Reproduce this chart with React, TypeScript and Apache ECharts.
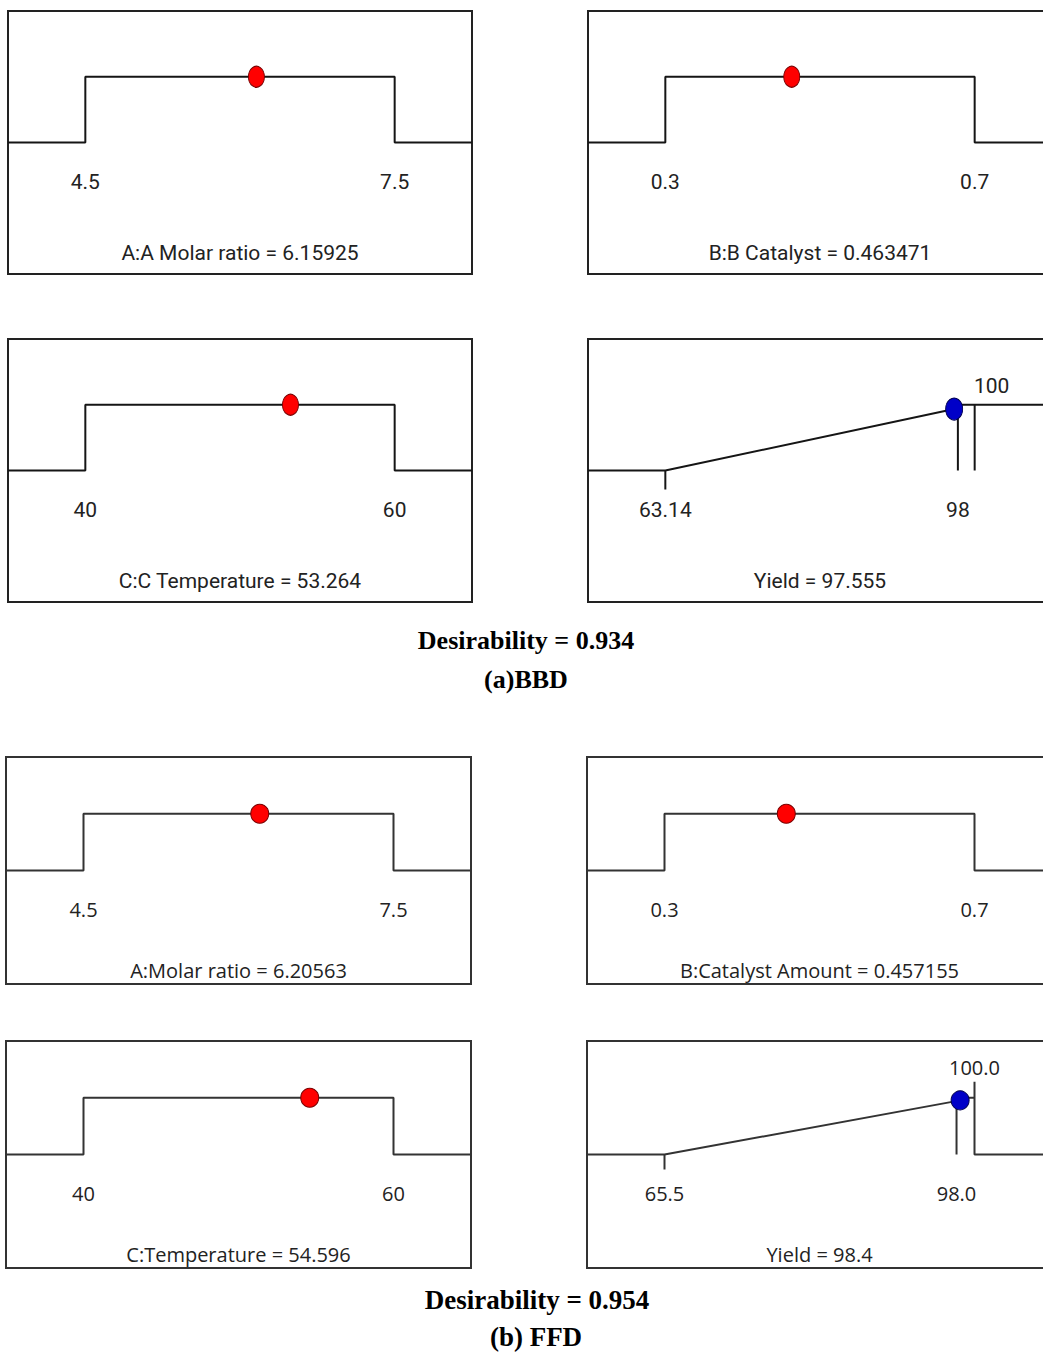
import React, { useEffect, useRef } from "react";
import * as echarts from "echarts";

// ---------- (a) BBD ----------
const bbdFactorNames = ["A:A Molar ratio", "B:B Catalyst", "C:C Temperature"];
const bbdFactorLow = [4.5, 0.3, 40];
const bbdFactorHigh = [7.5, 0.7, 60];
const bbdFactorOptimum = [6.15925, 0.463471, 53.264];
const bbdFactorTickDecimals = [1, 1, 0];
const bbdYieldName = "Yield";
const bbdYieldLow = 63.14;
const bbdYieldTarget = 98;
const bbdYieldHigh = 100;
const bbdYieldPredicted = 97.555;
const bbdDesirability = 0.934;
const bbdTitle = "Desirability = 0.934";
const bbdCaption = "(a)BBD";

// ---------- (b) FFD ----------
const ffdFactorNames = ["A:Molar ratio", "B:Catalyst Amount", "C:Temperature"];
const ffdFactorLow = [4.5, 0.3, 40];
const ffdFactorHigh = [7.5, 0.7, 60];
const ffdFactorOptimum = [6.20563, 0.457155, 54.596];
const ffdFactorTickDecimals = [1, 1, 0];
const ffdYieldName = "Yield";
const ffdYieldLow = 65.5;
const ffdYieldTarget = 98.0;
const ffdYieldHigh = 100.0;
const ffdYieldPredicted = 98.4;
const ffdDesirability = 0.954;
const ffdYieldCapLevel = 1.28;
const ffdTitle = "Desirability = 0.954";
const ffdCaption = "(b) FFD";

// ---------- layout / style ----------
const BBD_BOXES = [[8, 11], [588, 11], [8, 339], [588, 339]];
const BBD_SIZE = [464, 263];
const FFD_BOXES = [[6, 757], [587, 757], [6, 1041], [587, 1041]];
const FFD_SIZE = [465, 227];

const bbdStyle = {
  font: "Roboto, 'Liberation Sans', sans-serif",
  size: 21,
  labelMargin: -102.5,
  nameGap: -31.5,
  lineColor: "#151515",
  boxColor: "#222",
  textColor: "#222",
  markerSize: [16, 21],
  yieldMarkerSize: [17, 22],
  tickLen: 19,
  topLabelOffset: [17, 0],
  topLabelDist: 8,
};
const ffdStyle = {
  font: "'Open Sans', 'Noto Sans', sans-serif",
  size: 20,
  labelMargin: -84.5,
  nameGap: -23.5,
  lineColor: "#333",
  boxColor: "#333",
  textColor: "#222",
  markerSize: [18, 19],
  yieldMarkerSize: [18, 19],
  tickLen: 15,
  topLabelOffset: [0, 0],
  topLabelDist: 4,
};

const RED = "#ff0000";
const RED_BORDER = "#7a0000";
const BLUE = "#0000c8";
const BLUE_BORDER = "#000050";

const Y_MIN = -2;
const Y_MAX = 2;

function addPanel(opt: any, spec: any) {
  const gi = opt.grid.length;
  const st = spec.style;
  const span = spec.hi - spec.lo;
  const xmin = spec.lo - 0.25 * span;
  const xmax = spec.hi + 0.25 * span;
  opt.grid.push({
    left: spec.left,
    top: spec.top,
    width: spec.width,
    height: spec.height,
    show: true,
    borderColor: st.boxColor,
    borderWidth: 2,
    backgroundColor: "transparent",
    containLabel: false,
    outerBoundsMode: "none",
  });
  opt.xAxis.push({
    gridIndex: gi,
    type: "value",
    position: "bottom",
    min: xmin,
    max: xmax,
    name: spec.name,
    nameLocation: "middle",
    nameGap: st.nameGap,
    nameMoveOverlap: false,
    nameTextStyle: {
      fontFamily: st.font,
      fontSize: st.size,
      lineHeight: st.size,
      color: st.textColor,
    },
    axisLine: { show: false, onZero: false },
    splitLine: { show: false },
    axisTick: { show: false },
    axisLabel: {
      show: true,
      customValues: spec.ticks,
      formatter: spec.fmt,
      margin: st.labelMargin,
      fontFamily: st.font,
      fontSize: st.size,
      lineHeight: st.size,
      color: st.textColor,
    },
  });
  opt.yAxis.push({
    gridIndex: gi,
    type: "value",
    min: Y_MIN,
    max: Y_MAX,
    show: false,
    splitLine: { show: false },
  });
  const segs = spec.segments.slice();
  if (spec.tickAt != null) {
    const depth = st.tickLen / (spec.height / (Y_MAX - Y_MIN));
    segs.push([[spec.tickAt, 0], [spec.tickAt, -depth]]);
  }
  segs.forEach((seg: number[][]) => {
    opt.series.push({
      type: "line",
      xAxisIndex: gi,
      yAxisIndex: gi,
      data: seg,
      symbol: "none",
      silent: true,
      lineStyle: { color: st.lineColor, width: 2 },
      z: 2,
    });
  });
  opt.series.push({
    type: "scatter",
    xAxisIndex: gi,
    yAxisIndex: gi,
    data: [spec.marker],
    symbol: "circle",
    symbolSize: spec.markerSize,
    silent: true,
    itemStyle: {
      color: spec.markerColor,
      borderColor: spec.markerBorder,
      borderWidth: 1,
      opacity: 1,
    },
    z: 5,
  });
  if (spec.topLabel) {
    opt.series.push({
      type: "scatter",
      xAxisIndex: gi,
      yAxisIndex: gi,
      data: [spec.topLabel.value],
      symbol: "circle",
      symbolSize: 1,
      silent: true,
      itemStyle: { color: "rgba(0,0,0,0)", opacity: 1 },
      label: {
        show: true,
        formatter: spec.topLabel.text,
        position: "top",
        distance: st.topLabelDist,
        offset: st.topLabelOffset,
        fontFamily: st.font,
        fontSize: st.size,
        lineHeight: st.size,
        color: st.textColor,
        opacity: 1,
        textBorderWidth: 0,
      },
      z: 6,
    });
  }
}

function factorSegments(lo: number, hi: number) {
  const span = hi - lo;
  const xmin = lo - 0.25 * span;
  const xmax = hi + 0.25 * span;
  return [[[xmin, 0], [lo, 0], [lo, 1], [hi, 1], [hi, 0], [xmax, 0]]];
}

function buildOption() {
  const opt: any = {
    animation: false,
    backgroundColor: "#ffffff",
    grid: [],
    xAxis: [],
    yAxis: [],
    series: [],
    graphic: [],
  };

  // BBD factors
  for (let i = 0; i < 3; i++) {
    const lo = bbdFactorLow[i];
    const hi = bbdFactorHigh[i];
    const dec = bbdFactorTickDecimals[i];
    addPanel(opt, {
      left: BBD_BOXES[i][0],
      top: BBD_BOXES[i][1],
      width: BBD_SIZE[0],
      height: BBD_SIZE[1],
      lo,
      hi,
      ticks: [lo, hi],
      fmt: (v: number) => v.toFixed(dec),
      name: `${bbdFactorNames[i]} = ${bbdFactorOptimum[i]}`,
      segments: factorSegments(lo, hi),
      marker: [bbdFactorOptimum[i], 1],
      markerColor: RED,
      markerBorder: RED_BORDER,
      markerSize: bbdStyle.markerSize,
      style: bbdStyle,
    });
  }
  // BBD yield
  {
    const lo = bbdYieldLow;
    const hi = bbdYieldHigh;
    const xmin = lo - 0.25 * (hi - lo);
    const xmax = hi + 0.25 * (hi - lo);
    addPanel(opt, {
      left: BBD_BOXES[3][0],
      top: BBD_BOXES[3][1],
      width: BBD_SIZE[0],
      height: BBD_SIZE[1],
      lo,
      hi,
      ticks: [bbdYieldLow, bbdYieldTarget],
      fmt: (v: number) => String(v),
      tickAt: bbdYieldLow,
      name: `${bbdYieldName} = ${bbdYieldPredicted}`,
      segments: [
        [[xmin, 0], [lo, 0], [bbdYieldPredicted, bbdDesirability]],
        [[bbdYieldTarget, 0], [bbdYieldTarget, bbdDesirability]],
        [[bbdYieldPredicted, 1], [hi, 1], [xmax, 1]],
        [[hi, 1], [hi, 0]],
      ],
      marker: [bbdYieldPredicted, bbdDesirability],
      markerColor: BLUE,
      markerBorder: BLUE_BORDER,
      markerSize: bbdStyle.yieldMarkerSize,
      topLabel: { value: [hi, 1], text: String(bbdYieldHigh) },
      style: bbdStyle,
    });
  }

  // FFD factors
  for (let i = 0; i < 3; i++) {
    const lo = ffdFactorLow[i];
    const hi = ffdFactorHigh[i];
    const dec = ffdFactorTickDecimals[i];
    addPanel(opt, {
      left: FFD_BOXES[i][0],
      top: FFD_BOXES[i][1],
      width: FFD_SIZE[0],
      height: FFD_SIZE[1],
      lo,
      hi,
      ticks: [lo, hi],
      fmt: (v: number) => v.toFixed(dec),
      name: `${ffdFactorNames[i]} = ${ffdFactorOptimum[i]}`,
      segments: factorSegments(lo, hi),
      marker: [ffdFactorOptimum[i], 1],
      markerColor: RED,
      markerBorder: RED_BORDER,
      markerSize: ffdStyle.markerSize,
      style: ffdStyle,
    });
  }
  // FFD yield
  {
    const lo = ffdYieldLow;
    const hi = ffdYieldHigh;
    const xmin = lo - 0.25 * (hi - lo);
    const xmax = hi + 0.25 * (hi - lo);
    addPanel(opt, {
      left: FFD_BOXES[3][0],
      top: FFD_BOXES[3][1],
      width: FFD_SIZE[0],
      height: FFD_SIZE[1],
      lo,
      hi,
      ticks: [ffdYieldLow, ffdYieldTarget],
      fmt: (v: number) => v.toFixed(1),
      tickAt: ffdYieldLow,
      name: `${ffdYieldName} = ${ffdYieldPredicted}`,
      segments: [
        [[xmin, 0], [lo, 0], [ffdYieldPredicted, ffdDesirability]],
        [[ffdYieldTarget, 0], [ffdYieldTarget, ffdDesirability]],
        [[ffdYieldPredicted, 1], [hi, 1]],
        [[hi, ffdYieldCapLevel], [hi, 0], [xmax, 0]],
      ],
      marker: [ffdYieldPredicted, ffdDesirability],
      markerColor: BLUE,
      markerBorder: BLUE_BORDER,
      markerSize: ffdStyle.yieldMarkerSize,
      topLabel: { value: [hi, ffdYieldCapLevel], text: ffdYieldHigh.toFixed(1) },
      style: ffdStyle,
    });
  }

  const serif = "'Liberation Serif', 'Times New Roman', serif";
  const title = (text: string, x: number, y: number, size: number) => ({
    type: "text",
    x,
    y,
    silent: true,
    style: {
      text,
      fontFamily: serif,
      fontWeight: "bold",
      fontSize: size,
      fill: "#000",
      align: "center",
      verticalAlign: "middle",
      textAlign: "center",
      textVerticalAlign: "middle",
    },
  });
  opt.graphic = [
    title(bbdTitle, 526, 640, 26),
    title(bbdCaption, 526, 679, 26),
    title(ffdTitle, 537, 1300, 27),
    title(ffdCaption, 536, 1337, 27),
  ];
  return opt;
}

export default function App() {
  const ref = useRef<HTMLDivElement>(null);
  useEffect(() => {
    if (!ref.current) return;
    const chart = echarts.init(ref.current, undefined, { renderer: "svg" });
    chart.setOption(buildOption());
    return () => chart.dispose();
  }, []);
  return (
    <div
      ref={ref}
      style={{
        position: "absolute",
        left: 0,
        top: 0,
        width: 1043,
        height: 1352,
        background: "#fff",
        overflow: "hidden",
      }}
    />
  );
}
